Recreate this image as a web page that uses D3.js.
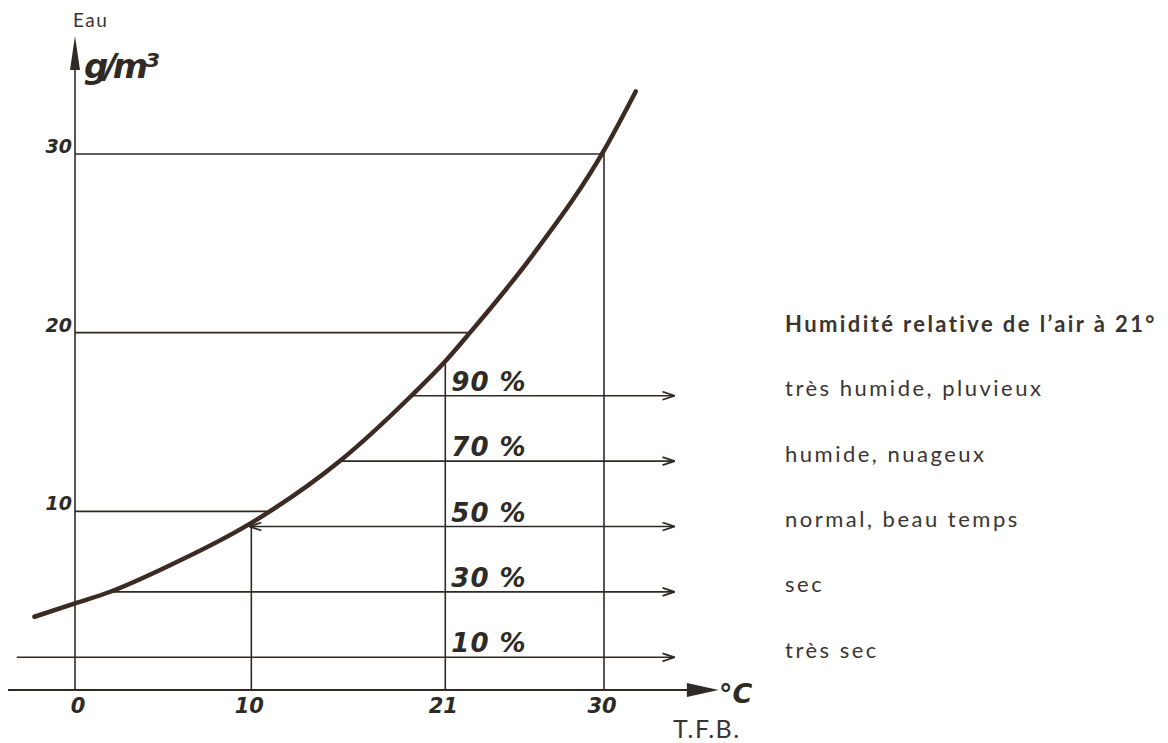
<!DOCTYPE html>
<html>
<head>
<meta charset="utf-8">
<script src="https://cdn.jsdelivr.net/npm/d3@7"></script>
<style>
  body { margin: 0; background: #fff; }
  .hand { font-family: "DejaVu Sans"; font-style: italic; font-weight: bold; fill: #2e2a26; }
  .print { font-family: "Lato"; fill: #3a3530; }
</style>
</head>
<body>
<div id="chart"></div>
<script>
/* Absolute humidity (g/m3) vs temperature, relative humidity at 21 degrees */

// saturation curve (temp in C, water in g/m3)
const curveTemps  = [-2.3, 0, 2, 5, 10, 15, 19, 21, 22.4, 26, 30, 31.8];
const curveValues = [4.1, 4.85, 5.5, 6.8, 9.35, 12.8, 16.4, 18.4, 20.0, 24.4, 30.2, 33.5];

const xTicks = [0, 10, 21, 30];
const yTicks = [10, 20, 30];
const dropTemps = [10, 21, 30];          // verticals from curve to x axis

const rhLevels = [90, 70, 50, 30, 10];    // % relative humidity at 21 C
const rhLabels = ["90 %", "70 %", "50 %", "30 %", "10 %"];
const rhText = ["très humide, pluvieux", "humide, nuageux", "normal, beau temps", "sec", "très sec"];
const satAt21 = 18.3;

const width = 1168, height = 743;

let svg = d3.select("#chart")
    .append("svg")
    .attr("width", width)
    .attr("height", height);

let x = d3.scaleLinear().domain([0, 30]).range([75, 604]);
let y = d3.scaleLinear().domain([0, 30]).range([690, 154]);

const ink = "#2f2a25";

svg.append("defs").append("marker")
    .attr("id", "open")
    .attr("viewBox", "0 0 12 10")
    .attr("refX", 12).attr("refY", 5)
    .attr("markerWidth", 13).attr("markerHeight", 10)
    .attr("markerUnits", "userSpaceOnUse")
    .attr("orient", "auto-start-reverse")
  .append("path")
    .attr("d", "M0,1 L12,5 L0,9")
    .attr("fill", "none")
    .attr("stroke", ink)
    .attr("stroke-width", 1.8);

// curve first so we can find intersections on it
let line = d3.line().x(d => x(d[0])).y(d => y(d[1])).curve(d3.curveMonotoneX);
let pts = curveTemps.map((t, i) => [t, curveValues[i]]);
let curvePath = svg.append("path")
    .datum(pts)
    .attr("d", line)
    .attr("fill", "none")
    .attr("stroke", "#3b2b22")
    .attr("stroke-width", 4.5)
    .attr("stroke-linecap", "round");

let node = curvePath.node(), total = node.getTotalLength();
let samples = d3.range(0, total, 0.5).map(l => node.getPointAtLength(l));
const pxAtY = py => { let s = samples.find(p => p.y <= py); return s ? s.x : samples[0].x; };
const pyAtX = px => { let s = samples.find(p => p.x >= px); return s ? s.y : samples[samples.length - 1].y; };

let g = svg.insert("g", () => node).attr("stroke", ink).attr("stroke-width", 1.6);

// axes
g.append("line").attr("x1", x(0)).attr("x2", x(0)).attr("y1", y(0)).attr("y2", y(35.5));
g.append("line").attr("x1", x(-3.8)).attr("x2", x(35)).attr("y1", y(0)).attr("y2", y(0)).attr("stroke-width", 2.2);
svg.append("path")
    .attr("d", `M${x(0)},${y(36.6)} L${x(0) - 5},${y(34.7)} L${x(0) + 5},${y(34.7)} Z`)
    .attr("fill", ink);
svg.append("path")
    .attr("d", `M${x(36.5)},${y(0)} L${x(34.7)},${y(0) - 7} L${x(34.7)},${y(0) + 7} Z`)
    .attr("fill", ink);

// horizontal guides from y axis to curve
g.selectAll(".hguide").data(yTicks).join("line")
    .attr("x1", x(0)).attr("x2", d => pxAtY(y(d)))
    .attr("y1", d => y(d)).attr("y2", d => y(d));

// verticals from curve down to axis
g.selectAll(".vguide").data(dropTemps).join("line")
    .attr("x1", d => x(d)).attr("x2", d => x(d))
    .attr("y1", d => pyAtX(x(d))).attr("y2", y(0));

// relative humidity arrows
rhLevels.forEach((p, i) => {
    let v = satAt21 * p / 100;
    let yy = y(v);
    let start = v < curveValues[0] ? x(-3.3) : pxAtY(yy);
    let l = g.append("line")
        .attr("x1", start + (p === 50 ? 4 : 0)).attr("x2", x(34))
        .attr("y1", yy).attr("y2", yy)
        .attr("marker-end", "url(#open)");
    if (p === 50) l.attr("marker-start", "url(#open)");

    svg.append("text").attr("class", "hand")
        .attr("x", x(21) + 6).attr("y", yy - 5)
        .attr("font-size", 26).attr("font-weight", "normal").attr("letter-spacing", 1)
        .text(rhLabels[i]);

    svg.append("text").attr("class", "print")
        .attr("x", 785).attr("y", yy - 5)
        .attr("dominant-baseline", "middle")
        .attr("font-size", 22).attr("letter-spacing", 2.5)
        .text(rhText[i]);
});

svg.append("text").attr("class", "print")
    .attr("x", 785).attr("y", 326)
    .attr("dominant-baseline", "middle")
    .attr("font-size", 22).attr("font-weight", "bold").attr("letter-spacing", 2.4)
    .text("Humidité relative de l’air à 21°");

// tick labels
svg.selectAll(".ytick").data(yTicks).join("text").attr("class", "hand")
    .attr("x", x(0) - 3).attr("y", d => y(d) - 1)
    .attr("text-anchor", "end").attr("font-size", 19)
    .text(d => d);
svg.selectAll(".xtick").data(xTicks).join("text").attr("class", "hand")
    .attr("x", d => x(d) + (d === 0 ? 3 : -2)).attr("y", y(0) + 23)
    .attr("text-anchor", "middle").attr("font-size", 21)
    .text(d => d);

// axis titles
svg.append("text").attr("class", "print")
    .attr("x", 73).attr("y", 27).attr("font-size", 19).attr("letter-spacing", 1.5)
    .text("Eau");
svg.append("text").attr("class", "hand")
    .attr("x", 84).attr("y", 78).attr("font-size", 34).attr("font-weight", "normal")
    .attr("letter-spacing", -4)
    .text("g/m³");
svg.append("text").attr("class", "hand")
    .attr("x", 719).attr("y", 703).attr("font-size", 27).attr("font-weight", "normal")
    .text("°C");
svg.append("text").attr("class", "print")
    .attr("x", 673).attr("y", 738).attr("font-size", 25).attr("letter-spacing", 1.5)
    .text("T.F.B.");
</script>
</body>
</html>
